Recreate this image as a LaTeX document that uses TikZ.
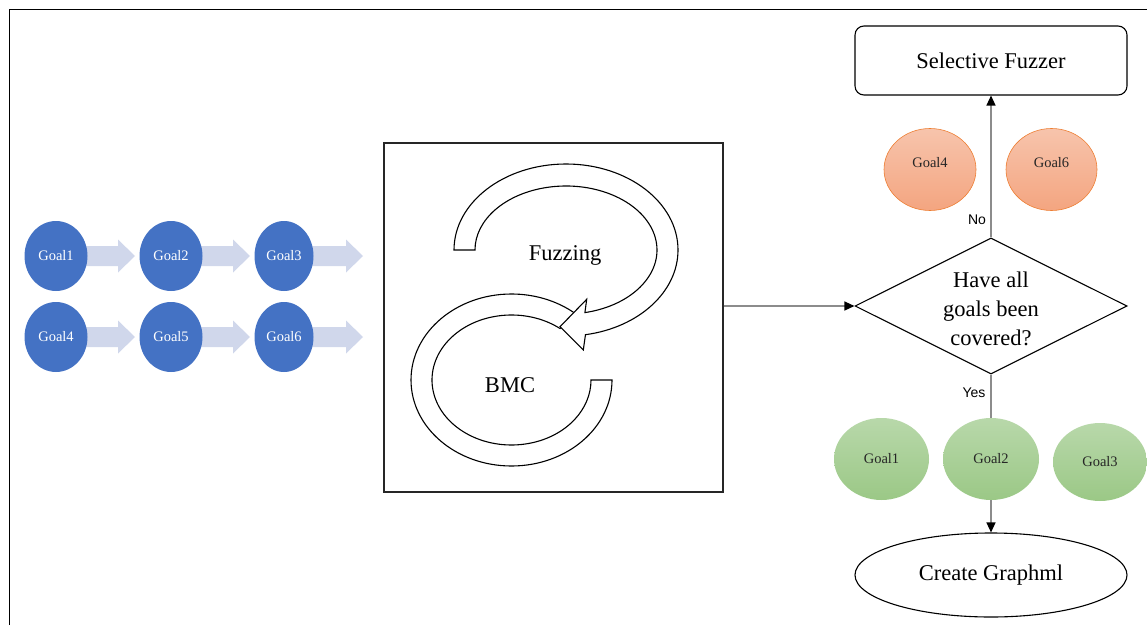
\documentclass[tikz,border=0pt]{standalone}
\usepackage{fontspec}
\setmainfont{Liberation Serif}
\newfontfamily\labelsans{Liberation Sans}
\usetikzlibrary{shapes.geometric,arrows.meta,calc}
\definecolor{goalblue}{RGB}{68,114,196}
\definecolor{lav}{RGB}{208,215,235}
\definecolor{ortop}{RGB}{247,196,172}
\definecolor{orbot}{RGB}{244,165,128}
\definecolor{orline}{RGB}{237,125,49}
\definecolor{grtop}{RGB}{184,216,170}
\definecolor{grbot}{RGB}{155,200,134}
\definecolor{conn}{RGB}{140,140,140}
\newcommand\lavarrow[3]{%
  \fill[lav] (#1,#3+10) -- (#2-17,#3+10) -- (#2-17,#3+16.5) -- (#2,#3)
    -- (#2-17,#3-16.5) -- (#2-17,#3-10) -- (#1,#3-10) -- cycle;}
\tikzset{
  bluegoal/.style={ellipse, fill=goalblue, text=white, minimum width=63, minimum height=70,
    inner sep=0, font=\fontsize{14.5}{17}\selectfont},
  orgoal/.style={ellipse, draw=orline, line width=0.6pt, top color=ortop, bottom color=orbot,
    inner sep=0},
  goaltext/.style={text=black!85, inner sep=0, font=\fontsize{14.5}{17}\selectfont},
  grgoal/.style={ellipse, top color=grtop, bottom color=grbot,
    text=black!85, inner sep=0, font=\fontsize{14.5}{17}\selectfont},
  bigtext/.style={font=\fontsize{22.5}{29}\selectfont},
  connline/.style={draw=conn, line width=1.3pt},
  connarrow/.style={connline, -{Triangle[length=10pt,width=9pt,color=black]}},
  yesno/.style={font=\labelsans\fontsize{14}{16}\selectfont, inner sep=0},
  loopband/.style={draw=black, line width=1.1pt, fill=white}
}
\begin{document}
\begin{tikzpicture}[x=1pt,y=1pt]
\useasboundingbox (0,0) rectangle (1147,625);
% outer frame (left and top only)
\draw[line width=1pt] (9,0) -- (9,615) -- (1147,615);

% lavender block arrows
\lavarrow{84}{135}{369}
\lavarrow{198}{250}{369}
\lavarrow{309}{363}{369}
\lavarrow{84}{135}{288}
\lavarrow{198}{250}{288}
\lavarrow{309}{363}{288}

% blue goals
\node[bluegoal] (g1) at (56,369) {Goal1};
\node[bluegoal] (g2) at (171,369) {Goal2};
\node[bluegoal, minimum width=59] (g3) at (284,369) {Goal3};
\node[bluegoal] (g4) at (56,288) {Goal4};
\node[bluegoal] (g5) at (171,288) {Goal5};
\node[bluegoal, minimum width=59] (g6) at (284,288) {Goal6};

% loop box
\node[draw=black!85, line width=1.1pt, minimum width=339, minimum height=349, inner sep=0]
  (loopbox) at (553.5,307.5) {};
% lower band (BMC)
\draw[loopband] (612,245) arc[start angle=0, end angle=-309, x radius=100.5, y radius=86]
  -- (560,296.5) arc[start angle=-307.6, end angle=0, x radius=79.5, y radius=65] -- cycle;
% upper arrow (Fuzzing)
\draw[loopband] (454,375) arc[start angle=180, end angle=-80, x radius=112, y radius=86]
  -- (583.3,275) -- (560,298.3) -- (586.7,325.7) -- (584.9,312.4)
  arc[start angle=-78, end angle=180, x radius=91, y radius=64] -- cycle;
\node[bigtext] (fuzz) at (565,370) {Fuzzing};
\node[bigtext] (bmc) at (510,240) {BMC};

% right side
\node[draw, line width=1.1pt, rounded corners=9pt, minimum width=272, minimum height=69,
  inner sep=0, bigtext] (sf) at (991,564.5) {Selective Fuzzer};
\node[diamond, draw, line width=1.1pt, minimum width=272, minimum height=136, inner sep=0]
  (dia) at (991,319) {};
\node[bigtext, align=center, inner sep=0] (diatext) at (991,316.5) {Have all\\goals been\\covered?};

\node[orgoal, minimum width=92, minimum height=82] (og4) at (930,455.5) {};
\node[goaltext] (og4t) at (930,462) {Goal4};
\node[orgoal, minimum width=91, minimum height=82] (og6) at (1051.5,455.5) {};
\node[goaltext] (og6t) at (1051.5,462) {Goal6};

\node[ellipse, draw, line width=1.1pt, minimum width=272, minimum height=84, inner sep=0,
  bigtext] (cg) at (991,50) {Create Graphml};

\node[grgoal, minimum width=95, minimum height=82] (gg1) at (881.5,166) {Goal1};
\node[grgoal, minimum width=96, minimum height=82] (gg2) at (991,166) {Goal2};
\node[grgoal, minimum width=94, minimum height=78] (gg3) at (1100,163) {Goal3};

% connectors
\draw[connarrow] (dia.north) -- (sf.south);
\draw[connline] (dia.south) -- (gg2.north);
\draw[connarrow] (gg2.south) -- (cg.north);
\draw[connarrow] (loopbox.east |- dia.west) -- (dia.west);

\node[yesno] (no) at (977,405) {No};
\node[yesno] (yes) at (974,232) {Yes};
\end{tikzpicture}
\end{document}
